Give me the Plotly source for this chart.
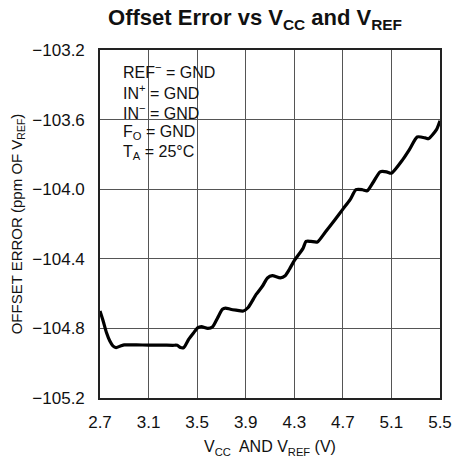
import plotly.graph_objects as go

# Data
vcc = [2.70, 2.726, 2.753, 2.780, 2.806, 2.833, 2.873, 2.90, 3.00, 3.10, 3.20, 3.30,
       3.336, 3.363, 3.39, 3.43, 3.47, 3.504, 3.535, 3.588, 3.628, 3.668, 3.694,
       3.708, 3.734, 3.774, 3.82, 3.880, 3.92, 3.986, 4.04, 4.079, 4.119, 4.185,
       4.225, 4.26, 4.30, 4.372, 4.397, 4.437, 4.49, 4.556, 4.63, 4.702, 4.76,
       4.808, 4.861, 4.901, 4.95, 5.007, 5.06, 5.10, 5.193, 5.25, 5.312, 5.378,
       5.405, 5.471, 5.50]
offset_err = [-104.70, -104.757, -104.824, -104.871, -104.90, -104.91, -104.90, -104.895,
              -104.895, -104.896, -104.896, -104.897, -104.897, -104.91, -104.91,
              -104.863, -104.826, -104.797, -104.79, -104.80, -104.79, -104.74, -104.705,
              -104.69, -104.683, -104.69, -104.695, -104.70, -104.68, -104.605, -104.555,
              -104.51, -104.497, -104.51, -104.497, -104.46, -104.41, -104.34, -104.30,
              -104.30, -104.303, -104.246, -104.18, -104.113, -104.06, -104.003, -104.003,
              -104.009, -103.96, -103.90, -103.90, -103.908, -103.83, -103.77, -103.70,
              -103.705, -103.71, -103.658, -103.607]

x_ticks = [2.7, 3.1, 3.5, 3.9, 4.3, 4.7, 5.1, 5.5]
y_ticks = [-105.2, -104.8, -104.4, -104.0, -103.6, -103.2]
y_tick_text = ["\u2212105.2", "\u2212104.8", "\u2212104.4", "\u2212104.0", "\u2212103.6", "\u2212103.2"]

conditions = ["REF<sup>\u2212</sup> = GND", "IN<sup>+</sup> = GND", "IN<sup>\u2212</sup> = GND",
              "F<sub>O</sub> = GND", "T<sub>A</sub> = 25\u00b0C"]

FONT = "Liberation Sans, Arial, sans-serif"

fig = go.Figure()
fig.add_trace(go.Scatter(x=vcc, y=offset_err, mode="lines",
                         line=dict(color="black", width=3.2, shape="spline", smoothing=0.6),
                         hoverinfo="skip", showlegend=False))

# white box behind the condition text (hides gridlines)
fig.add_shape(type="rect", xref="paper", yref="paper",
              x0=(115 - 100) / 352, x1=(222 - 100) / 352,
              y0=(401 - 173) / 351.5, y1=(401 - 57) / 351.5,
              fillcolor="white", line=dict(width=0), layer="between")

line_y = [71, 91.5, 112, 132.5, 153]
for txt, py in zip(conditions, line_y):
    fig.add_annotation(text=txt, xref="paper", yref="paper",
                       x=(122 - 100) / 352, y=(401 - py) / 351.5,
                       xanchor="left", yanchor="middle", showarrow=False,
                       font=dict(family=FONT, size=16, color="#111"))

fig.update_layout(
    width=462, height=463,
    margin=dict(l=100, r=10, t=50, b=62),
    paper_bgcolor="white", plot_bgcolor="white",
    font=dict(family=FONT, color="#111"),
    title=dict(text="<b>Offset Error vs V<sub>CC</sub> and V<sub>REF</sub></b>",
               x=0.552, xanchor="center", y=0.962, yanchor="middle",
               font=dict(family=FONT, size=22, color="#111")),
    xaxis=dict(range=[2.7, 5.5], tickvals=x_ticks, ticktext=[f"{v:.1f}" for v in x_ticks],
               showgrid=True, gridcolor="#555", gridwidth=1,
               showline=True, linecolor="#222", linewidth=1.5, mirror=True,
               zeroline=False, ticks="", tickfont=dict(size=17), ticklabelstandoff=8,
               title=dict(text="V<sub>CC</sub>  AND V<sub>REF</sub> (V)", font=dict(size=16), standoff=10)),
    yaxis=dict(range=[-105.2, -103.2], tickvals=y_ticks, ticktext=y_tick_text,
               showgrid=True, gridcolor="#555", gridwidth=1,
               showline=True, linecolor="#222", linewidth=1.5, mirror=True,
               zeroline=False, ticks="", tickfont=dict(size=17), ticklabelstandoff=10,
               title=dict(text="OFFSET ERROR (ppm OF V<sub>REF</sub>)", font=dict(size=15), standoff=6)),
)

fig.write_html("out.html", config={"displayModeBar": False},
               post_script="document.body.style.margin='0';document.body.style.overflow='hidden';")
